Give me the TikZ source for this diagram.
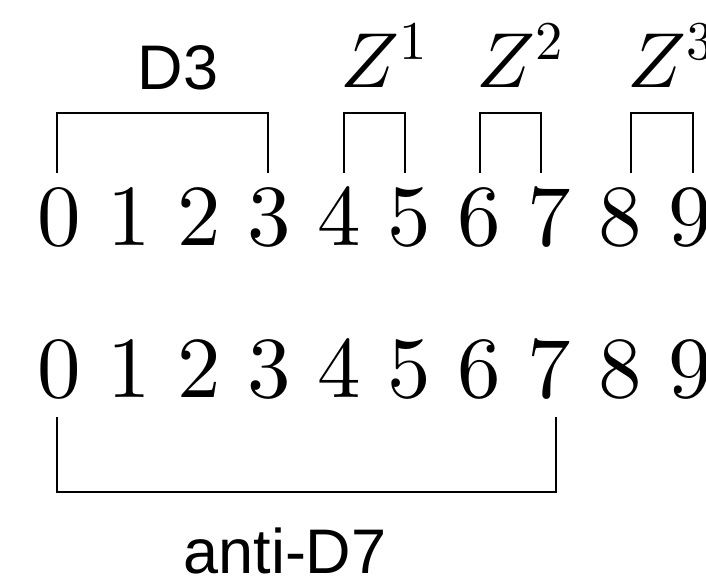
\documentclass[tikz,border=0pt]{standalone}
\usepackage[no-math]{fontspec}
\DeclareFontShape{OT1}{cmr}{m}{n}{<->cmr10}{}
\DeclareFontShape{OML}{cmm}{m}{it}{<->cmmi10}{}
\DeclareFontShape{OMS}{cmsy}{m}{n}{<->cmsy10}{}
\DeclareFontShape{OMX}{cmex}{m}{n}{<->cmex10}{}
\newfontfamily\arialf{Liberation Sans}
\begin{document}
\begin{tikzpicture}[x=1pt,y=-1pt,
  bracket/.style={line width=1.7pt},
  digit/.style={inner sep=0pt,anchor=base,font=\fontsize{87}{87}\selectfont},
  zlab/.style={inner sep=0pt,anchor=base west,font=\fontsize{78}{78}\selectfont},
  slab/.style={inner sep=0pt,anchor=base,font=\fontsize{63}{63}\selectfont\arialf}]
\useasboundingbox (0,0) rectangle (706,585);
\foreach \i in {0,...,9} {
  \node[digit] (a\i) at ({59+70.1*\i},246) {$\i$};
  \node[digit] (b\i) at ({59+70.1*\i},397) {$\i$};
}
\node[slab] (d3) at (178,90) {D3};
\node[zlab] (z1) at (340,88) {$Z^1$};
\node[zlab] (z2) at (476,88) {$Z^2$};
\node[zlab] (z3) at (627,88) {$Z^3$};
\node[slab] (ad7) at (285,573) {anti-D7};
% brackets
\draw[bracket] (57,173) -- (57,113) -- (268,113) -- (268,173);
\draw[bracket] (344,173) -- (344,113) -- (405,113) -- (405,173);
\draw[bracket] (480,173) -- (480,113) -- (541,113) -- (541,173);
\draw[bracket] (631,173) -- (631,113) -- (693,113) -- (693,173);
\draw[bracket] (57,417) -- (57,492) -- (556,492) -- (556,417);
\end{tikzpicture}
\end{document}
